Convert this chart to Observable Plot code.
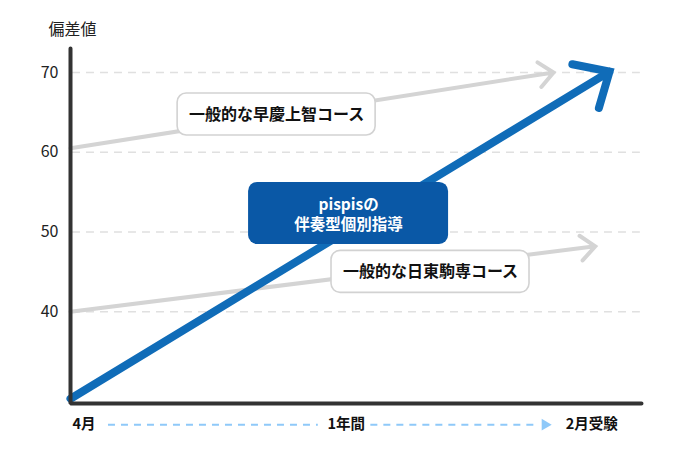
<!DOCTYPE html>
<html>
<head>
<meta charset="utf-8">
<script src="https://cdn.jsdelivr.net/npm/d3@7"></script>
<script src="https://cdn.jsdelivr.net/npm/@observablehq/plot@0.6"></script>
<style>
  html, body { margin: 0; padding: 0; background: #fff; }
  #chart svg { display: block; }
</style>
</head>
<body>
<div id="chart"></div>
<script>
// ---- data ----
const yTicks = [40, 50, 60, 70];
const yTitle = "偏差値";
// progress along the year, 0 = 4月 start, 100 = end of axis
const xMin = 0, xMax = 100;
const yMin = 28.5, yMax = 73;

const courseNames = ["一般的な早慶上智コース", "一般的な日東駒専コース", "pispisの\n伴奏型個別指導"];
const courseStart = [60.5, 40, 29.1];
const courseEndX = [84.6, 91.9, 94.4];
const courseEndY = [70, 48.2, 70.1];
const labelX = [36.1, 63.05, 48.7];
const labelY = [64.73, 45, 52.32];

const timelineLabels = ["4月", "1年間", "2月受験"];
const timelineX = [2.36, 48.3, 91.3];
const timelineDashes = [[6.65, 43.4], [52.6, 82.0]];
const timelineArrowX = 83.1;
const timelineY = 25.85;

// ---- layout ----
const W = 691, H = 466;
const mL = 70, mR = 50, mT = 48, mB = 63;
const pxPerX = (W - mL - mR) / (xMax - xMin);
const pxPerY = (H - mT - mB) / (yMax - yMin);

const courses = courseNames.map((name, i) => ({
  name, x1: 0, y1: courseStart[i], x2: courseEndX[i], y2: courseEndY[i],
  lx: labelX[i], ly: labelY[i], main: i === 2
}));
const grayCourses = courses.filter(d => !d.main);
const mainCourse = courses.filter(d => d.main);

function box(d, wPx, hPx) {
  return {
    ...d,
    bx1: d.lx - wPx / 2 / pxPerX, bx2: d.lx + wPx / 2 / pxPerX,
    by1: d.ly - hPx / 2 / pxPerY, by2: d.ly + hPx / 2 / pxPerY
  };
}
const grayBoxes = grayCourses.map(d => box(d, 198, 42));
const mainBoxes = mainCourse.map(d => box(d, 200, 62));

const timeline = timelineLabels.map((t, i) => ({t, x: timelineX[i], y: timelineY}));
const dashSegs = timelineDashes.map(([a, b]) => ({x1: a, x2: b, y: timelineY}));

const frame = [
  {x: xMin, y: yMax}, {x: xMin, y: yMin}, {x: xMax, y: yMin}
];

const font = "'Noto Sans CJK JP', 'Noto Sans', sans-serif";

const chart = Plot.plot({
  width: W, height: H,
  marginLeft: mL, marginRight: mR, marginTop: mT, marginBottom: mB,
  style: {fontFamily: font, color: "#222", background: "#fff"},
  x: {domain: [xMin, xMax], axis: null},
  y: {domain: [yMin, yMax], axis: null},
  marks: [
    // dashed grid
    Plot.ruleY(yTicks, {x1: 0.35, x2: 99.8, stroke: "#e0e0e0", strokeWidth: 1.5, strokeDasharray: "8,6"}),
    // y tick labels
    Plot.text(yTicks, {x: xMin, y: d => d, text: d => String(d), textAnchor: "end", dx: -12, fontSize: 16, fill: "#222"}),
    // y title
    Plot.text([yTitle], {x: xMin, y: yMax, text: d => d, dx: 2, dy: -19, fontSize: 16, fill: "#222"}),
    // gray course arrows
    Plot.arrow(grayCourses, {x1: "x1", y1: "y1", x2: "x2", y2: "y2", stroke: "#d4d4d4", strokeWidth: 4,
      headLength: 7.1, headAngle: 82, strokeLinecap: "round", strokeLinejoin: "miter", strokeMiterlimit: 4}),
    // main course arrow
    Plot.arrow(mainCourse, {x1: "x1", y1: "y1", x2: "x2", y2: "y2", stroke: "#106cb8", strokeWidth: 8,
      headLength: 7.1, headAngle: 85, strokeLinecap: "round", strokeLinejoin: "miter", strokeMiterlimit: 4}),
    // label boxes
    Plot.rect(grayBoxes, {x1: "bx1", x2: "bx2", y1: "by1", y2: "by2", fill: "#fff", stroke: "#d2d2d2", strokeWidth: 1.6, rx: 9}),
    Plot.text(grayBoxes, {x: "lx", y: "ly", text: "name", fontSize: 16, fontWeight: "bold", fill: "#111"}),
    Plot.rect(mainBoxes, {x1: "bx1", x2: "bx2", y1: "by1", y2: "by2", fill: "#0a58a6", rx: 9}),
    Plot.text(mainBoxes, {x: "lx", y: "ly", text: "name", fontSize: 15.5, fontWeight: "bold", fill: "#fff", lineHeight: 1.3}),
    // frame axes
    Plot.line(frame, {x: "x", y: "y", stroke: "#333", strokeWidth: 4, strokeLinejoin: "miter", strokeLinecap: "round"}),
    // timeline
    Plot.ruleY(dashSegs, {x1: "x1", x2: "x2", y: "y", stroke: "#8fc9f9", strokeWidth: 2, strokeDasharray: "7,6"}),
    Plot.dot([{x: timelineArrowX, y: timelineY}], {x: "x", y: "y", symbol: "triangle", r: 4.3, rotate: 90, fill: "#8fc9f9", stroke: "none"}),
    Plot.text(timeline, {x: "x", y: "y", text: "t", fontSize: 14.5, fontWeight: "bold", fill: "#111"})
  ]
});
document.getElementById("chart").appendChild(chart);
</script>
</body>
</html>
